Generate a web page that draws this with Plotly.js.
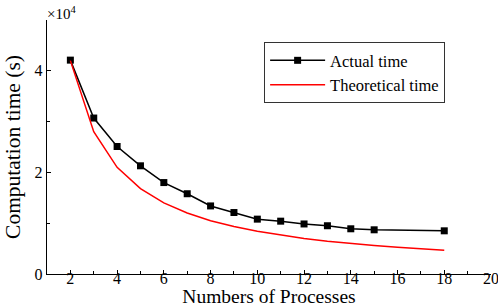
<!DOCTYPE html>
<html>
<head>
<meta charset="utf-8">
<script src="https://cdn.plot.ly/plotly-3.0.1.min.js"></script>
<style>html,body{margin:0;padding:0;background:#fff;}#chart{width:498px;height:307px;}</style>
</head>
<body>
<div id="chart"></div>
<script>
// Data
const actualX = [2, 3, 4, 5, 6, 7, 8, 9, 10, 11, 12, 13, 14, 15, 18];
const actualTime = [42100, 30700, 25100, 21300, 18000, 15800, 13400, 12100, 10800, 10400, 9850, 9500, 8900, 8700, 8500];
const theoX = [2, 3, 4, 5, 6, 7, 8, 9, 10, 11, 12, 13, 14, 15, 16, 17, 18];
const theoTime = [42000, 28000, 21000, 16800, 14000, 12000, 10500, 9330, 8400, 7640, 7000, 6460, 6000, 5600, 5250, 4940, 4670];
const yTickVals = [0, 20000, 40000];
const yTickText = ['0', '2', '4'];
const xTickVals = [2, 4, 6, 8, 10, 12, 14, 16, 18, 20];

const serif = 'Liberation Serif, Times New Roman, serif';

const traces = [
  {
    x: actualX, y: actualTime, name: 'Actual time', type: 'scatter', mode: 'lines+markers',
    line: {color: '#000000', width: 1.5},
    marker: {symbol: 'square', size: 7, color: '#000000'}
  },
  {
    x: theoX, y: theoTime, name: 'Theoretical time', type: 'scatter', mode: 'lines',
    line: {color: '#ff0000', width: 1.5}
  }
];

const layout = {
  width: 498, height: 307,
  margin: {l: 47, r: 7, t: 20, b: 33},
  paper_bgcolor: '#ffffff', plot_bgcolor: '#ffffff',
  font: {family: serif, size: 15, color: '#000'},
  showlegend: true,
  legend: {
    x: 0.489, y: 0.913, xanchor: 'left', yanchor: 'top',
    bordercolor: '#333', borderwidth: 1, bgcolor: '#fff',
    font: {family: serif, size: 16.5, color: '#000'},
    itemwidth: 55,
    tracegroupgap: 0
  },
  xaxis: {
    range: [1, 20], showgrid: false, zeroline: false,
    showline: true, linecolor: '#000', linewidth: 1.2,
    ticks: 'inside', ticklen: 4, tickcolor: '#000', tickwidth: 1,
    tickvals: xTickVals,
    minor: {dtick: 1, tick0: 1, ticks: 'inside', ticklen: 3, tickcolor: '#000', showgrid: false},
    tickfont: {family: serif, size: 16},
    ticklabelstandoff: -10,
    ticklabeloverflow: 'allow',
    title: {text: 'Numbers of Processes', font: {family: serif, size: 19.5}, standoff: 0}
  },
  yaxis: {
    range: [0, 50000], showgrid: false, zeroline: false,
    showline: true, linecolor: '#000', linewidth: 1.2,
    ticks: 'inside', ticklen: 4, tickcolor: '#000', tickwidth: 1,
    tickvals: yTickVals, ticktext: yTickText,
    minor: {dtick: 10000, tick0: 0, ticks: 'inside', ticklen: 3, tickcolor: '#000', showgrid: false},
    tickfont: {family: serif, size: 16},
    title: {text: 'Computation time (s)', font: {family: serif, size: 21.5}, standoff: 8}
  },
  annotations: [{
    xref: 'paper', yref: 'paper', x: 0, y: 1, xanchor: 'left', yanchor: 'bottom',
    text: '×10<sup>4</sup>', showarrow: false, font: {family: serif, size: 15}, yshift: -4, xshift: -2
  }]
};

Plotly.newPlot('chart', traces, layout, {displayModeBar: false, staticPlot: true});
</script>
</body>
</html>
